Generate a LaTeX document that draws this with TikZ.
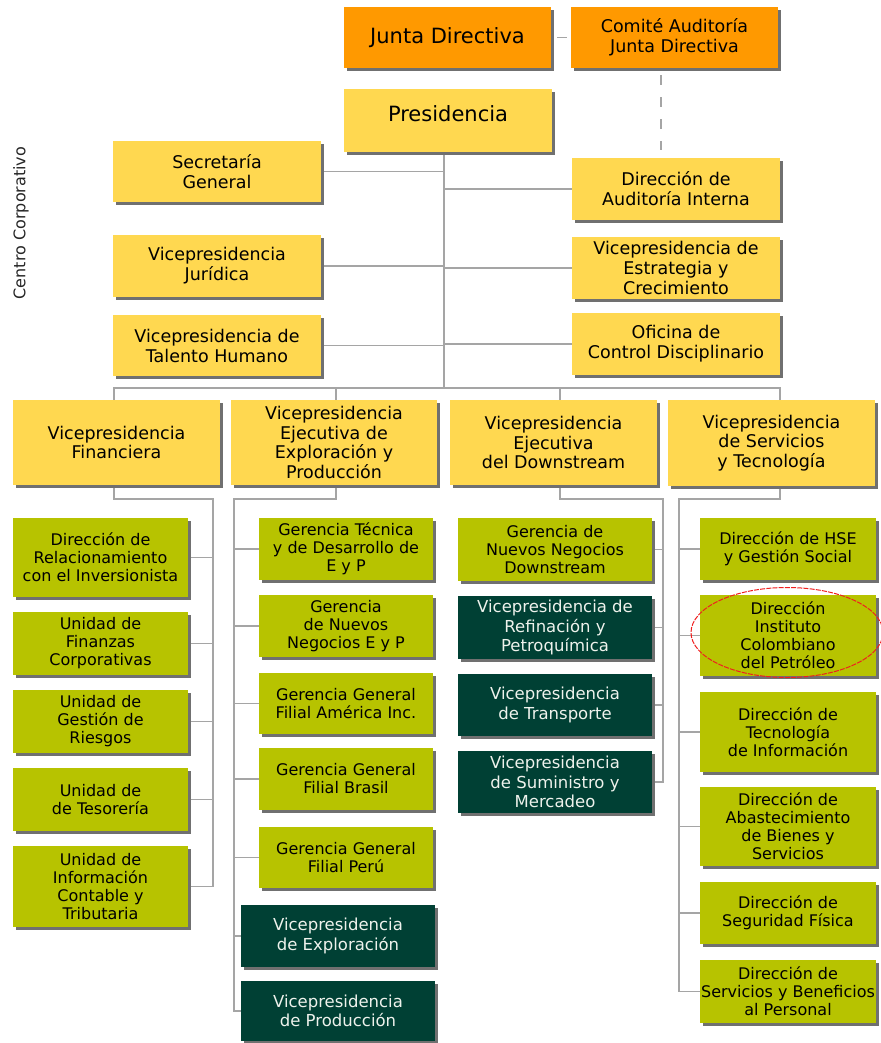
\documentclass[tikz,border=0pt]{standalone}
\usepackage{fontspec}
\setmainfont{DejaVu Sans}
\usetikzlibrary{shadows}
\pgfdeclarelayer{background}
\pgfdeclarelayer{paper}
\pgfsetlayers{paper,background,main}

\definecolor{orangebox}{RGB}{255,153,0}
\definecolor{yellowbox}{RGB}{255,216,80}
\definecolor{greenbox}{RGB}{183,195,0}
\definecolor{darkbox}{RGB}{0,64,52}
\definecolor{shadowc}{RGB}{112,112,112}
\definecolor{linec}{RGB}{165,165,165}
\definecolor{ringc}{RGB}{240,30,30}
\definecolor{lighttext}{RGB}{238,242,236}

% box given by its corners: style, name, x1, y1, x2, y2, text
\newcommand\orgbox[7]{\node[#1, minimum width={#5-#3}, minimum height={#6-#4}] (#2) at ({(#3+#5)/2},{(#4+#6)/2}) {#7};}

\begin{document}
\begin{tikzpicture}[x=1pt,y=-1pt,
  unit/.style={rectangle, inner sep=0pt, align=center, text=black,
    general shadow={fill=shadowc, shadow xshift=3pt, shadow yshift=-3pt}},
  board/.style={unit, fill=orangebox},
  exec/.style={unit, fill=yellowbox},
  office/.style={unit, fill=greenbox, font=\fontsize{16}{18}\selectfont},
  vpdark/.style={unit, fill=darkbox, text=lighttext, font=\fontsize{16.5}{19.5}\selectfont},
  link/.style={draw=linec, line width=1.3pt},
  auditlink/.style={link, dash pattern=on 10pt off 12pt}
]
\begin{pgfonlayer}{paper}
\fill[white] (0,0) rectangle (880,1043);
\end{pgfonlayer}
\useasboundingbox (0,0) rectangle (880,1043);

% board and presidency
\orgbox{board, font=\fontsize{21}{25}\selectfont}{junta}{344}{7}{551}{68}{Junta Directiva}
\orgbox{board, font=\fontsize{17.5}{20}\selectfont}{comite}{571}{7}{778}{68}{Comité Auditoría\\Junta Directiva}
\orgbox{exec, font=\fontsize{21}{25}\selectfont}{pres}{344}{89}{552}{152}{\raisebox{14pt}{Presidencia}}

% corporate centre
\begin{scope}[every node/.append style={font=\fontsize{17.5}{20}\selectfont}]
\orgbox{exec}{sec}{113}{141}{321}{202}{Secretaría\\General}
\orgbox{exec}{aud}{572}{158}{780}{220}{Dirección de\\Auditoría Interna}
\orgbox{exec}{jur}{113}{235}{321}{297}{Vicepresidencia\\Jurídica}
\orgbox{exec}{est}{572}{237}{780}{299}{Vicepresidencia de\\Estrategia y\\Crecimiento}
\orgbox{exec}{tal}{113}{315}{321}{376}{Vicepresidencia de\\Talento Humano}
\orgbox{exec}{ofi}{572}{313}{780}{375}{Oficina de\\Control Disciplinario}
\end{scope}

\node[rotate=90, font=\fontsize{16}{19}\selectfont, text=black!85] (cc) at (21,223) {Centro Corporativo};

% vice-presidencies
\begin{scope}[every node/.append style={font=\fontsize{17.5}{19.5}\selectfont}]
\orgbox{exec}{fin}{13}{400}{220}{485}{Vicepresidencia\\Financiera}
\orgbox{exec}{ep}{231}{400}{437}{485}{Vicepresidencia\\Ejecutiva de\\Exploración y\\Producción}
\orgbox{exec}{dw}{450}{400}{657}{485}{Vicepresidencia\\Ejecutiva\\del Downstream}
\orgbox{exec}{sv}{668}{400}{875}{486}{Vicepresidencia\\de Servicios\\y Tecnología}
\end{scope}

% finance
\orgbox{office}{rel}{13}{518}{188}{597}{Dirección de\\Relacionamiento\\con el Inversionista}
\orgbox{office}{fzs}{13}{612}{188}{675}{Unidad de\\Finanzas\\Corporativas}
\orgbox{office}{rie}{13}{690}{188}{753}{Unidad de\\Gestión de\\Riesgos}
\orgbox{office}{tes}{13}{768}{188}{831}{Unidad de\\de Tesorería}
\orgbox{office}{inf}{13}{846}{188}{927}{Unidad de\\Información\\Contable y\\Tributaria}

% exploration and production
\orgbox{office}{tec}{259}{518}{433}{580}{Gerencia Técnica\\y de Desarrollo de\\E y P}
\orgbox{office}{nne}{259}{595}{433}{657}{Gerencia\\de Nuevos\\Negocios E y P}
\orgbox{office}{ame}{259}{673}{433}{734}{Gerencia General\\Filial América Inc.}
\orgbox{office}{bra}{259}{748}{433}{810}{Gerencia General\\Filial Brasil}
\orgbox{office}{per}{259}{827}{433}{888}{Gerencia General\\Filial Perú}
\orgbox{vpdark}{exp}{241}{905}{435}{967}{Vicepresidencia\\de Exploración}
\orgbox{vpdark}{pro}{241}{981}{435}{1041}{Vicepresidencia\\de Producción}

% downstream
\orgbox{office}{nnd}{458}{518}{652}{581}{Gerencia de\\Nuevos Negocios\\Downstream}
\orgbox{vpdark}{ref}{458}{596}{652}{659}{Vicepresidencia de\\Refinación y\\Petroquímica}
\orgbox{vpdark}{tra}{458}{674}{652}{736}{Vicepresidencia\\de Transporte}
\orgbox{vpdark}{sum}{458}{751}{652}{813}{Vicepresidencia\\de Suministro y\\Mercadeo}

% services and technology
\orgbox{office}{hse}{700}{518}{876}{580}{Dirección de HSE\\y Gestión Social}
\orgbox{office}{ins}{700}{595}{876}{676}{Dirección\\Instituto\\Colombiano\\del Petróleo}
\orgbox{office}{tic}{700}{692}{876}{772}{Dirección de\\Tecnología\\de Información}
\orgbox{office}{aba}{700}{787}{876}{866}{Dirección de\\Abastecimiento\\de Bienes y\\Servicios}
\orgbox{office}{seg}{700}{882}{876}{944}{Dirección de\\Seguridad Física}
\orgbox{office}{ben}{700}{960}{876}{1023}{Dirección de\\Servicios y Beneficios\\al Personal}

% junction points of the connector tree
\coordinate (bus) at (444,388);
\coordinate (cj) at (661,0);
\coordinate (fj) at (114,499);  \coordinate (fcol) at (213,499);
\coordinate (ej) at (336,499);  \coordinate (ecol) at (234,499);
\coordinate (dj) at (560,499);  \coordinate (dcol) at (663,499);
\coordinate (sj) at (780,499);  \coordinate (scol) at (679,499);

\begin{pgfonlayer}{background}
% presidency trunk and staff offices
\draw[link] (pres.south -| bus) -- (bus);
\foreach \n in {sec,jur,tal} \draw[link] (\n.east) -- (\n.east -| bus);
\foreach \n in {aud,est,ofi} \draw[link] (\n.west) -- (\n.west -| bus);
% audit committee lines
\draw[auditlink, shorten <=6pt, shorten >=3pt] (junta.east) -- (comite.west);
\draw[auditlink, shorten <=7pt, shorten >=8pt] (comite.south -| cj) -- (aud.north -| cj);
% bar over the vice-presidencies
\draw[link] (fin.north -| fj) |- (bus) -| (sv.north -| sj);
\draw[link] (ep.north -| ej) -- (ej |- bus);
\draw[link] (dw.north -| dj) -- (dj |- bus);
% finance column
\draw[link] (fin.south -| fj) -- (fj) -- (fcol) -- (fcol |- inf.east) -- (inf.east);
\foreach \n in {rel,fzs,rie,tes} \draw[link] (\n.east) -- (\n.east -| fcol);
% exploration and production column
\draw[link] (ep.south -| ej) -- (ej) -- (ecol) -- (ecol |- pro.west) -- (pro.west);
\foreach \n in {tec,nne,ame,bra,per,exp} \draw[link] (\n.west) -- (\n.west -| ecol);
% downstream column
\draw[link] (dw.south -| dj) -- (dj) -- (dcol) -- (dcol |- sum.east) -- (sum.east);
\foreach \n in {nnd,ref,tra} \draw[link] (\n.east) -- (\n.east -| dcol);
% services column
\draw[link] (sv.south -| sj) -- (sj) -- (scol) -- (scol |- ben.west) -- (ben.west);
\foreach \n in {hse,ins,tic,aba,seg} \draw[link] (\n.west) -- (\n.west -| scol);
\end{pgfonlayer}

% highlight ring
\draw[ringc, line width=1pt, dash pattern=on 5pt off 1.2pt] ([xshift=-1pt, yshift=3pt]ins.center) ellipse [x radius=96, y radius=45];
\end{tikzpicture}
\end{document}
